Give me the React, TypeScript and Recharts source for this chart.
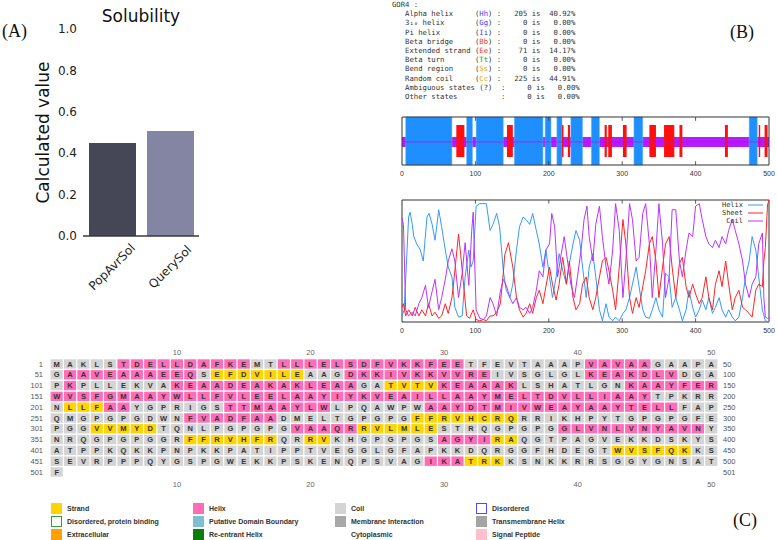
import React from 'react';
import {
  BarChart, Bar, XAxis, YAxis, Cell, ComposedChart, Line,
  ReferenceArea, ReferenceLine, ScatterChart, Scatter,
} from 'recharts';

// ---------- Panel A : solubility ----------
const SOL_CATEGORIES = ['PopAvrSol', 'QuerySol'];
const SOL_VALUES = [0.449, 0.507];
const SOL_COLORS = ['#454656', '#8385a2'];
const SOL_TICKS = [0, 0.2, 0.4, 0.6, 0.8, 1.0];

// ---------- Panel B : GOR4 summary ----------
const GOR_NAMES = ['Alpha helix', '3\u2081\u2080 helix', 'Pi helix', 'Beta bridge', 'Extended strand', 'Beta turn', 'Bend region', 'Random coil'];
const GOR_CODES = ['Hh', 'Gg', 'Ii', 'Bb', 'Ee', 'Tt', 'Ss', 'Cc'];
const GOR_CODE_COLORS = ['#3c3cff', '#3c3cff', '#3c3cff', '#ff3030', '#ff3030', '#1f9a1f', '#f0a000', '#f0a000'];
const GOR_COUNTS = [205, 0, 0, 0, 71, 0, 0, 225];
const GOR_PCTS = ['40.92', '0.00', '0.00', '0.00', '14.17', '0.00', '0.00', '44.91'];
const GOR_EXTRA_NAMES = ['Ambiguous states (?)', 'Other states'];
const GOR_EXTRA_COUNTS = [0, 0];
const GOR_EXTRA_PCTS = ['0.00', '0.00'];

// GOR4 track segments (residue ranges)
const TRACK_HELIX = [[5, 68], [88, 96], [101, 138], [153, 192], [195, 203], [211, 218], [230, 246], [258, 269], [316, 328], [473, 484]];
const TRACK_STRAND = [[74, 85], [143, 151], [218, 220], [226, 229], [276, 279], [281, 286], [301, 306], [337, 346], [357, 371], [378, 382], [440, 444], [486, 488], [494, 498]];
const GNU_TICKS = [0, 100, 200, 300, 400, 500];
const GNU_INNER_TICKS = [100, 200, 300, 400];

// GOR4 probability curves: [residue, probability]
const HELIX_PROB = [[0,0.05],[3,0.1],[5,0.35],[9,0.86],[11,0.9],[14,0.8],[16,0.7],[20,0.64],[25,0.59],[29,0.5],[34,0.86],[37,0.89],[41,0.8],[45,0.67],[50,0.92],[54,0.78],[59,0.59],[63,0.45],[68,0.37],[72,0.12],[77,0.04],[82,0.05],[86,0.37],[91,0.59],[94,0.45],[97,0.5],[101,0.95],[106,0.97],[115,0.97],[120,0.75],[124,0.8],[129,0.89],[133,0.78],[138,0.42],[142,0.26],[147,0.2],[151,0.31],[156,0.59],[160,0.78],[165,0.86],[169,0.84],[174,0.8],[178,0.89],[183,0.75],[187,0.64],[192,0.45],[196,0.59],[201,0.37],[205,0.2],[210,0.37],[214,0.56],[219,0.42],[224,0.31],[228,0.48],[233,0.64],[237,0.75],[242,0.67],[246,0.45],[251,0.2],[255,0.45],[260,0.56],[264,0.37],[269,0.1],[273,0.01],[278,0.15],[282,0.04],[287,0.01],[291,0.04],[296,0.01],[301,0.07],[305,0.1],[310,0.2],[314,0.31],[319,0.45],[323,0.29],[328,0.1],[332,0.04],[337,0.03],[341,0.1],[346,0.2],[350,0.1],[355,0.04],[359,0.4],[364,0.37],[368,0.12],[373,0.2],[378,0.1],[382,0.01],[387,0.1],[391,0.26],[396,0.12],[400,0.04],[405,0.1],[409,0.18],[414,0.1],[418,0.2],[423,0.07],[427,0.12],[432,0.2],[436,0.1],[441,0.04],[445,0.1],[450,0.04],[454,0.01],[459,0.04],[464,0.2],[468,0.37],[473,0.5],[477,0.7],[482,0.59],[486,0.37],[491,0.1],[495,0.01],[500,0.0]];
const SHEET_PROB = [[0,0.12],[2,0.15],[5,0.05],[9,0.1],[14,0.05],[18,0.12],[23,0.05],[27,0.1],[32,0.05],[36,0.15],[41,0.05],[45,0.08],[50,0.03],[54,0.05],[59,0.15],[63,0.07],[68,0.2],[70,0.3],[75,0.6],[77,0.72],[80,0.55],[84,0.3],[88,0.05],[92,0.03],[97,0.1],[101,0.02],[106,0.01],[111,0.02],[115,0.01],[120,0.05],[124,0.05],[129,0.08],[134,0.15],[138,0.4],[140,0.55],[145,0.65],[151,0.45],[156,0.2],[160,0.1],[165,0.04],[169,0.07],[174,0.15],[178,0.07],[183,0.2],[187,0.26],[192,0.15],[196,0.29],[201,0.45],[205,0.31],[210,0.18],[214,0.31],[219,0.53],[224,0.31],[228,0.5],[233,0.2],[237,0.1],[242,0.15],[246,0.31],[251,0.37],[255,0.2],[260,0.1],[264,0.2],[269,0.37],[273,0.5],[278,0.53],[282,0.42],[287,0.26],[291,0.1],[296,0.45],[301,0.84],[305,0.64],[310,0.2],[314,0.07],[319,0.2],[323,0.12],[328,0.29],[332,0.42],[337,0.64],[341,0.7],[346,0.5],[350,0.2],[355,0.45],[359,0.64],[364,0.7],[368,0.45],[373,0.2],[378,0.48],[382,0.53],[387,0.29],[391,0.2],[396,0.31],[400,0.23],[405,0.15],[409,0.2],[414,0.37],[418,0.2],[423,0.1],[427,0.31],[432,0.42],[436,0.29],[441,0.5],[445,0.31],[450,0.1],[454,0.2],[459,0.26],[464,0.12],[468,0.1],[473,0.07],[477,0.04],[482,0.26],[486,0.31],[491,0.29],[493,0.5],[495,0.61],[498,0.96],[500,1.0]];
const COIL_PROB = [[0,0.85],[2,0.8],[5,0.1],[9,0.05],[14,0.08],[18,0.05],[23,0.15],[27,0.2],[32,0.3],[36,0.12],[41,0.25],[45,0.35],[50,0.1],[54,0.2],[59,0.35],[63,0.5],[68,0.6],[72,0.5],[77,0.2],[82,0.4],[86,0.65],[91,0.3],[95,0.75],[97,0.9],[101,0.1],[106,0.03],[111,0.02],[115,0.05],[120,0.2],[124,0.15],[129,0.05],[134,0.25],[138,0.35],[142,0.3],[147,0.2],[151,0.15],[156,0.2],[160,0.12],[165,0.1],[169,0.12],[174,0.07],[178,0.12],[183,0.26],[187,0.42],[192,0.37],[196,0.59],[201,0.64],[204,0.89],[208,0.78],[212,0.37],[217,0.56],[221,0.7],[226,0.48],[230,0.31],[235,0.2],[239,0.37],[244,0.59],[248,0.84],[252,0.95],[255,0.7],[260,0.5],[264,0.8],[269,0.95],[273,0.7],[278,0.45],[282,0.31],[287,0.59],[291,0.97],[296,0.75],[301,0.2],[305,0.5],[310,0.97],[314,0.84],[319,0.5],[323,0.53],[328,0.89],[332,0.97],[337,0.64],[341,0.2],[346,0.59],[350,0.97],[355,0.64],[359,0.2],[364,0.37],[368,0.92],[373,0.92],[378,0.5],[382,0.37],[387,0.59],[391,0.73],[396,0.7],[400,0.95],[405,0.97],[409,0.84],[414,0.7],[418,0.64],[423,0.61],[427,0.67],[432,0.61],[436,0.7],[441,0.64],[445,0.75],[450,0.84],[454,0.75],[459,0.64],[464,0.5],[468,0.31],[473,0.2],[477,0.31],[482,0.37],[486,0.64],[491,0.73],[493,0.2],[495,0.04],[498,0.03],[500,0.03]];
const CURVE_NAMES = ['Helix', 'Sheet', 'Coil'];
const CURVE_COLORS = ['#3399ff', '#ff2424', '#bb33ff'];

// ---------- Panel C : PSIPRED sequence plot ----------
const SEQ_ROWS = [
  'MAKLSTDELLDAFKEMTLLLELSDFVKKFEETFEVTAAAPVAVAAGAAPA',
  'GAAVEAAAEEQSEFDVILEAAGDKKIVKKVVREIVSGLGLKEAKDLVDGA',
  'PKPLLEKVAKEAADEAKAKLEAAGATVTVKEAAAKLSHATLGNKAAYFER',
  'WVSFGMAAYWLLFVLEELAAYIYKVEAILLAAYMELTDVLLIAAYTPKRR',
  'NLLFAAYGPRIGSTTMAAYLWLPQAWPWAAYDTMIVWEAYAAYTELLFAP',
  'QMGPGPGDWNFVADFAADMELTGPGPGFFRVHCRQRRIKHPYTGPGPGFE',
  'PGGVVMYDTQNLPGPGPGVAAQRRVLMLESTRQGPGPGGLVNLVNYAVNY',
  'NRQGPGPGGRFFRVHFRQRRVKHGPGPGSAGYIRAQGTPAGVEKKDSKYS',
  'ATPPKQKKPNPKKPATIPPTVEGGLGFAPKKDQRGGFHDEGTWVSFQKKS',
  'SEVRPPPQYGSPGWEKKPSKENQPSVAGIKATRKKSNKKRRSGGYGNSAT',
  'F',
];
const SS_ROWS = [
  'CCCCCHHHHHHHHHHCCHHHHHHHHHHHHHHCCCCCCCCCHHHHHCCCCC',
  'CHHHHHHHHHHCEEEEEEECCCHHHHHHHHHHHCCCCCCCHHHHHHHCCC',
  'CHCCCCCCCHHHHHHHHHHHHHHCCEEEEHHHHHHCCCCCCCCHHHHHHH',
  'HHHHHHHHHHHHHHHHHHHHHHHHHHHHHHHHHHHHHHHHHHHHHCCCCC',
  'CEEEHHCCCCCCCHHHHHHHHCCCCCCCHHHHHHHHHHHHHHHHHHHCCC',
  'CCCCCCCCCCHHHHHHHCCCCCCCCCCEEEEEEEECCCCCCCCCCCCCCC',
  'CCCEEEEECCCCCCCCCCHHHHHEEEEEECCCCCCCCCHHHHHHHHHHHC',
  'CCCCCCCCCCEEEEEEECCEECCCCCCCCHHHHEECCCCCCCCCCCCCCC',
  'CCCCCCCCCCCCCCCCCCCCCCCCCCCCCCCCCCCCCCCCCCEEEEEECC',
  'CCCCCCCCCCCCCCCCCCCCCCCCCCCCHHHEEECCCCCCCCCCCCCCCC',
  'C',
];
const SS_FILL: Record<string, string> = { C: '#d4d4d4', H: '#ff6cb8', E: '#ffd400' };
const SCALE_TICKS = [10, 20, 30, 40, 50];
const ROW_TICKS = [1, 2, 3, 4, 5, 6, 7, 8, 9, 10, 11];

const PSI_LABELS = ['Strand', 'Helix', 'Coil', 'Disordered', 'Disordered, protein binding', 'Putative Domain Boundary', 'Membrane Interaction', 'Transmembrane Helix', 'Extracellular', 'Re-entrant Helix', 'Cytoplasmic', 'Signal Peptide'];
const PSI_FILLS = ['#ffd400', '#ff6cb8', '#d4d4d4', '#ffffff', '#ffffff', '#7fbfd2', '#a8a8a8', '#a4a4a4', '#ffa000', '#0a7d0a', 'none', '#ffc0cb'];
const PSI_STROKES = ['none', 'none', 'none', '#4b4bff', '#3a9a3a', 'none', 'none', 'none', 'none', 'none', 'none', 'none'];

// ---------- layout constants ----------
const GRID_W = 668;
const GRID_H = 118.8;
const CELL_W = GRID_W / 50;
const CELL_H = GRID_H / 11;

const solData = SOL_CATEGORIES.map((name, i) => ({ name, value: SOL_VALUES[i] }));
const toXY = (arr: number[][]) => arr.map(([x, y]) => ({ x, y }));
const CURVES = [toXY(HELIX_PROB), toXY(SHEET_PROB), toXY(COIL_PROB)];
const AXIS_ENDS = [{ x: 0, y: 0 }, { x: 500, y: 1 }];
const GRID_DATA = SEQ_ROWS.flatMap((row, r) =>
  row.split('').map((aa, c) => ({ col: c + 1, row: r + 1, aa, ss: SS_ROWS[r][c] }))
);

const RotTick = (props: any) => {
  const { x, y, payload } = props;
  return (
    <g transform={`translate(${x},${y + 31}) rotate(-45)`}>
      <text textAnchor="middle" dominantBaseline="central" fontSize={12} fill="#222" fontFamily="DejaVu Sans">
        {payload.value}
      </text>
    </g>
  );
};

const SeqCell = (props: any) => {
  const { cx, cy, payload } = props;
  if (cx == null || cy == null) return <g />;
  return (
    <g>
      <rect x={cx - CELL_W / 2 + 0.6} y={cy - CELL_H / 2 + 0.7} width={CELL_W - 1.2} height={CELL_H - 1.4} fill={SS_FILL[payload.ss]} />
      <text x={cx} y={cy} textAnchor="middle" dominantBaseline="central" fontSize={7.5} fontWeight="bold" fill="#333" fontFamily="Liberation Sans, Arial">
        {payload.aa}
      </text>
    </g>
  );
};

const gnuTick = { fontSize: 7, fill: '#333', fontFamily: 'Liberation Sans' };
const panelLabel: React.CSSProperties = { position: 'absolute', fontFamily: 'Liberation Serif, Times New Roman, serif', fontSize: 18, color: '#111', lineHeight: '18px' };

const gnuInnerTicks = (len: number) =>
  GNU_INNER_TICKS.flatMap((t) => [
    <ReferenceLine key={'b' + t} segment={[{ x: t, y: 0 }, { x: t, y: len }]} stroke="#333" strokeWidth={0.8} ifOverflow="visible" />,
    <ReferenceLine key={'t' + t} segment={[{ x: t, y: 1 - len }, { x: t, y: 1 }]} stroke="#333" strokeWidth={0.8} ifOverflow="visible" />,
  ]);

export default function App() {
  return (
    <div style={{ position: 'absolute', left: 0, top: 0, width: 777, height: 540, background: '#fff', overflow: 'hidden', fontFamily: 'Liberation Sans, Arial, sans-serif' }}>
      {/* ---- Panel A ---- */}
      <div style={{ ...panelLabel, left: 2, top: 22 }}>(A)</div>
      <div style={{ position: 'absolute', left: 81, width: 120, top: 6, textAlign: 'center', fontFamily: 'DejaVu Sans', fontSize: 17, color: '#111', lineHeight: '20px' }}>Solubility</div>
      <div style={{ position: 'absolute', left: 0, top: 0 }}>
        <BarChart width={260} height={330} data={solData} margin={{ top: 29, right: 61, bottom: 34, left: 0 }}>
          <XAxis dataKey="name" axisLine={{ stroke: '#3a3a3a', strokeWidth: 1.3 }} tickLine={false} tickSize={0} tickMargin={0} height={60} interval={0} tick={<RotTick />} />
          <YAxis
            domain={[0, 1]}
            ticks={SOL_TICKS}
            width={83}
            axisLine={false}
            tickLine={false}
            tickSize={0}
            tickMargin={6}
            tickFormatter={(v: number) => v.toFixed(1)}
            tick={{ fontSize: 12, fill: '#222', fontFamily: 'DejaVu Sans' }}
            label={{ value: 'Calculated value', angle: -90, position: 'insideLeft', offset: 43, style: { textAnchor: 'middle', fontSize: 17, fill: '#111', fontFamily: 'DejaVu Sans' } }}
          />
          <Bar dataKey="value" barSize={47} isAnimationActive={false}>
            {solData.map((d, i) => (
              <Cell key={d.name} fill={SOL_COLORS[i]} />
            ))}
          </Bar>
        </BarChart>
      </div>

      {/* ---- Panel B text ---- */}
      <div style={{ ...panelLabel, left: 730, top: 23 }}>(B)</div>
      <div style={{ position: 'absolute', left: 392, top: 0, fontFamily: 'DejaVu Sans Mono, monospace', fontSize: 7.25, lineHeight: '9.2px', color: '#333', whiteSpace: 'pre' }}>
        <div>GOR4 :</div>
        {GOR_NAMES.map((name, i) => (
          <div key={name}>
            {'   ' + name.padEnd(16) + '('}
            <span style={{ color: GOR_CODE_COLORS[i] }}>{GOR_CODES[i]}</span>
            {') :' + String(GOR_COUNTS[i]).padStart(6) + ' is ' + GOR_PCTS[i].padStart(6) + '%'}
          </div>
        ))}
        {GOR_EXTRA_NAMES.map((name, i) => (
          <div key={name}>
            {'   ' + name.padEnd(22) + ':' + String(GOR_EXTRA_COUNTS[i]).padStart(6) + ' is ' + GOR_EXTRA_PCTS[i].padStart(6) + '%'}
          </div>
        ))}
      </div>

      {/* ---- Panel B track ---- */}
      <div style={{ position: 'absolute', left: 392, top: 110 }}>
        <ComposedChart width={400} height={73} data={AXIS_ENDS} margin={{ top: 7, right: 23, bottom: 0, left: 10 }}>
          <XAxis type="number" dataKey="x" domain={[0, 500]} ticks={GNU_TICKS} height={18} axisLine={false} tickLine={false} tickSize={0} tickMargin={6} tick={gnuTick} />
          <YAxis hide type="number" domain={[0, 1]} />
          <Line dataKey="y" stroke="none" dot={false} isAnimationActive={false} />
          <ReferenceArea x1={0} x2={500} y1={0.375} y2={0.583} fill="#b41cff" fillOpacity={1} stroke="none" ifOverflow="visible" />
          {TRACK_HELIX.map(([a, b]) => (
            <ReferenceArea key={'h' + a} x1={a} x2={b} y1={0} y2={1} fill="#1f8fff" fillOpacity={1} stroke="#6ab6ff" strokeWidth={0.5} ifOverflow="visible" />
          ))}
          {TRACK_STRAND.map(([a, b]) => (
            <ReferenceArea key={'s' + a} x1={a} x2={b} y1={0.167} y2={0.833} fill="#ff1010" fillOpacity={1} stroke="none" ifOverflow="visible" />
          ))}
          <ReferenceLine y={0.48} stroke="#c000ff" strokeWidth={0.7} ifOverflow="visible" />
          {gnuInnerTicks(0.08)}
          <ReferenceArea x1={0} x2={500} y1={0} y2={1} fill="none" fillOpacity={0} stroke="#333" strokeWidth={1} ifOverflow="visible" />
        </ComposedChart>
      </div>

      {/* ---- Panel B curves ---- */}
      <div style={{ position: 'absolute', left: 392, top: 193 }}>
        <ComposedChart width={400} height={144} margin={{ top: 7, right: 23, bottom: 0, left: 10 }}>
          <XAxis type="number" dataKey="x" domain={[0, 500]} ticks={GNU_TICKS} height={15} axisLine={false} tickLine={false} tickSize={0} tickMargin={6} tick={gnuTick} allowDuplicatedCategory={false} />
          <YAxis hide type="number" domain={[0, 1]} />
          {CURVES.map((data, i) => (
            <Line key={CURVE_NAMES[i]} data={data} dataKey="y" type="linear" stroke={CURVE_COLORS[i]} strokeWidth={1} dot={false} isAnimationActive={false} />
          ))}
          {gnuInnerTicks(0.03)}
          <ReferenceArea x1={0} x2={500} y1={0} y2={1} fill="none" fillOpacity={0} stroke="#333" strokeWidth={1} ifOverflow="visible" />
        </ComposedChart>
      </div>
      <svg style={{ position: 'absolute', left: 700, top: 199 }} width={75} height={28}>
        {CURVE_NAMES.map((n, i) => (
          <g key={n}>
            <text x={43} y={6 + i * 8} textAnchor="end" dominantBaseline="central" fontSize={7} fill="#333" fontFamily="DejaVu Sans Mono, monospace">{n}</text>
            <line x1={48} x2={63} y1={6 + i * 8} y2={6 + i * 8} stroke={CURVE_COLORS[i]} strokeWidth={1} />
          </g>
        ))}
      </svg>

      {/* ---- Panel C grid ---- */}
      <div style={{ position: 'absolute', left: 0, top: 340 }}>
        <ScatterChart width={777} height={160} margin={{ top: 8.6, right: 19, bottom: 12.6, left: 0 }}>
          <XAxis xAxisId="b" type="number" dataKey="col" domain={[0.5, 50.5]} ticks={SCALE_TICKS} orientation="bottom" height={10} axisLine={false} tickLine={false} tickSize={0} tickMargin={4} tick={{ fontSize: 7.5, fill: '#666', fontFamily: 'Liberation Sans' }} />
          <XAxis xAxisId="t" type="number" dataKey="col" domain={[0.5, 50.5]} ticks={SCALE_TICKS} orientation="top" height={10} axisLine={false} tickLine={false} tickSize={0} tickMargin={4} tick={{ fontSize: 7.5, fill: '#666', fontFamily: 'Liberation Sans' }} />
          <YAxis yAxisId="l" type="number" dataKey="row" domain={[0.5, 11.5]} reversed ticks={ROW_TICKS} width={50} axisLine={false} tickLine={false} tickSize={0} tickMargin={7} interval={0} tickFormatter={(v: number) => String((v - 1) * 50 + 1)} tick={{ fontSize: 7.5, fill: '#555', fontFamily: 'Liberation Sans' }} />
          <YAxis yAxisId="r" type="number" dataKey="row" orientation="right" domain={[0.5, 11.5]} reversed ticks={ROW_TICKS} width={40} axisLine={false} tickLine={false} tickSize={0} tickMargin={5} interval={0} tickFormatter={(v: number) => String(v < 11 ? v * 50 : 501)} tick={{ fontSize: 7.5, fill: '#555', fontFamily: 'Liberation Sans' }} />
          <Scatter data={GRID_DATA} xAxisId="b" yAxisId="l" shape={<SeqCell />} isAnimationActive={false} />
          <Scatter data={GRID_DATA} xAxisId="t" yAxisId="r" shape={() => <g />} isAnimationActive={false} />
        </ScatterChart>
      </div>

      {/* ---- Panel C legend ---- */}
      {PSI_LABELS.map((lab, i) => {
        const col = i % 4;
        const row = Math.floor(i / 4);
        const left = [51, 193, 335, 476][col];
        const top = 508 + row * 13;
        return (
          <div key={lab} style={{ position: 'absolute', left, top: top - 5.5, height: 11, display: 'flex', alignItems: 'center' }}>
            <div style={{ width: 11, height: 11, boxSizing: 'border-box', background: PSI_FILLS[i] === 'none' ? 'transparent' : PSI_FILLS[i], border: PSI_STROKES[i] !== 'none' ? `1.3px solid ${PSI_STROKES[i]}` : 'none' }} />
            <span style={{ marginLeft: 5, fontSize: 7, fontWeight: 'bold', color: '#333', fontFamily: 'Liberation Sans, Arial', whiteSpace: 'nowrap' }}>{lab}</span>
          </div>
        );
      })}
      <div style={{ ...panelLabel, left: 733, top: 511 }}>(C)</div>
    </div>
  );
}
